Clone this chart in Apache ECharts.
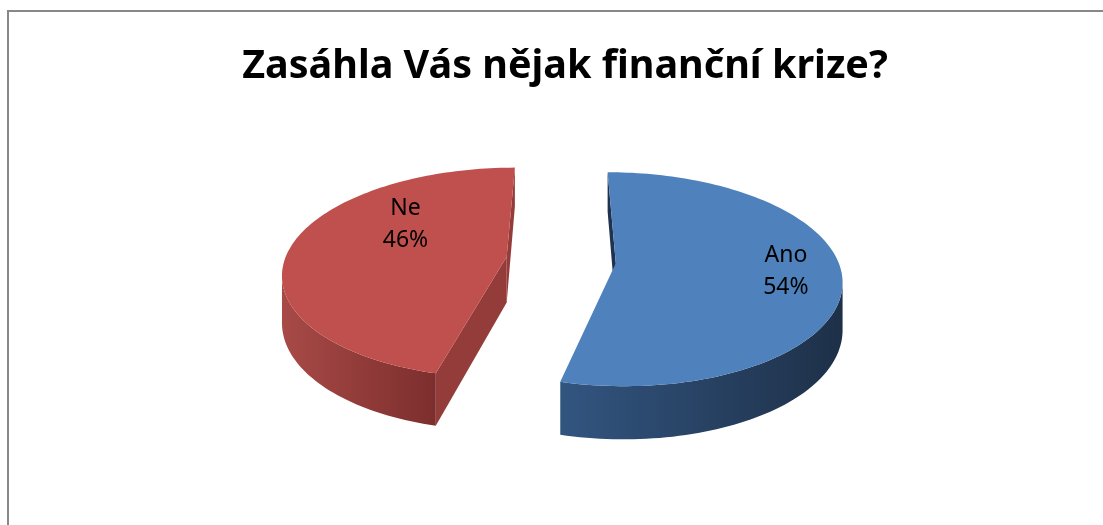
<!DOCTYPE html>
<html>
<head>
<meta charset="utf-8">
<script src="https://cdn.jsdelivr.net/npm/echarts@6/dist/echarts.min.js"></script>
<style>
html,body{margin:0;padding:0;background:#fff}
#main{width:1103px;height:525px}
</style>
</head>
<body>
<div id="main"></div>
<script>
// data
var categories = ['Ano', 'Ne'];
var values = [54, 46];
var titleText = 'Zasáhla Vás nějak finanční krize?';

// look of the 3D pie (colours, label spots: [radius fraction, angle])
var topColors = ['#4f81bd', '#c0504d'];
var wallColors = [['#325580', '#1e3048'], ['#a84a47', '#7c2e2d']];
var cutColors = ['#1f3250', '#943c3a'];
var labelSpots = [[0.755, 96], [0.592, 303.4]];

// projection
var CX = 561, CY = 260, R = 222, K = 0.4775, P = 0.15, DEPTH = 46, EXPLODE = 55;

var total = 0, starts = [];
for (var i = 0; i < values.length; i++) {
	starts.push(total);
	total += values[i];
}
starts = starts.map(function (s) { return 360 * s / total; });

function proj(X, Z, H) {
	var s = 1 + P * Z / R;
	return [CX + X * s, CY + Z * K * s + H * s];
}

function area(pts) {
	var s = 0;
	for (var k = 0; k < pts.length; k++) {
		var a = pts[k], b = pts[(k + 1) % pts.length];
		s += a[0] * b[1] - b[0] * a[1];
	}
	return s / 2;
}

function renderItem(params, api) {
	var i = params.dataIndex;
	var v = api.value(0);
	var a0 = starts[i], a1 = a0 + 360 * v / total;
	var mid = (a0 + a1) / 2 * Math.PI / 180;
	var ex = EXPLODE * Math.sin(mid), ez = -EXPLODE * Math.cos(mid);
	function pt(deg, f, h) {
		var t = deg * Math.PI / 180;
		return proj(ex + f * R * Math.sin(t), ez - f * R * Math.cos(t), h);
	}
	var steps = Math.max(8, Math.round((a1 - a0) / 1.5));
	var topArc = [], botArc = [];
	for (var k = 0; k <= steps; k++) {
		var d = a0 + (a1 - a0) * k / steps;
		topArc.push(pt(d, 1, 0));
		botArc.push(pt(d, 1, DEPTH));
	}
	var c0 = pt(0, 0, 0), c1 = pt(0, 0, DEPTH);
	var children = [];

	// cut faces
	var faces = [
		[c0, topArc[0], botArc[0], c1],
		[topArc[steps], c0, c1, botArc[steps]]
	];
	faces.forEach(function (f) {
		if (area(f) < -1) {
			children.push({type: 'polygon', shape: {points: f}, style: {fill: cutColors[i]}});
		}
	});

	// outer wall, only the parts facing us
	function pushWall(run) {
		var pts = topArc.slice(run[0], run[1] + 1).concat(botArc.slice(run[0], run[1] + 1).reverse());
		children.push({
			type: 'polygon',
			shape: {points: pts},
			style: {
				fill: {type: 'linear', x: 0, y: 0, x2: 1, y2: 0,
					colorStops: [{offset: 0, color: wallColors[i][0]}, {offset: 1, color: wallColors[i][1]}]}
			}
		});
	}
	var run = null;
	for (k = 0; k < steps; k++) {
		var q = [topArc[k], topArc[k + 1], botArc[k + 1], botArc[k]];
		if (area(q) < 0) {
			if (!run) run = [k, k + 1]; else run[1] = k + 1;
		} else if (run) {
			pushWall(run);
			run = null;
		}
	}
	if (run) pushWall(run);

	// top face
	children.push({type: 'polygon', shape: {points: [c0].concat(topArc)}, style: {fill: topColors[i]}});

	// label
	var lp = pt(labelSpots[i][1], labelSpots[i][0], 0);
	children.push({
		type: 'text',
		x: lp[0], y: lp[1],
		style: {
			text: categories[i] + '\n' + Math.round(v / total * 100) + '%',
			fill: '#000',
			font: '23px "Noto Sans"',
			lineHeight: 32,
			align: 'center',
			verticalAlign: 'middle'
		}
	});
	return {type: 'group', children: children};
}

var myChart = echarts.init(document.getElementById('main'));
myChart.setOption({
	animation: false,
	title: {
		text: titleText,
		left: 560,
		top: 38,
		textAlign: 'center',
		textStyle: {
			fontFamily: 'Noto Sans',
			fontWeight: 'bold',
			fontSize: 39.5,
			lineHeight: 48,
			color: '#000'
		}
	},
	graphic: [{
		type: 'polyline',
		silent: true,
		shape: {points: [[8, 700], [8, 11], [1300, 11]]},
		style: {fill: null, stroke: '#888', lineWidth: 2}
	}],
	series: [{
		type: 'custom',
		coordinateSystem: 'none',
		renderItem: renderItem,
		data: values.map(function (v) { return [v]; })
	}]
});
</script>
</body>
</html>
